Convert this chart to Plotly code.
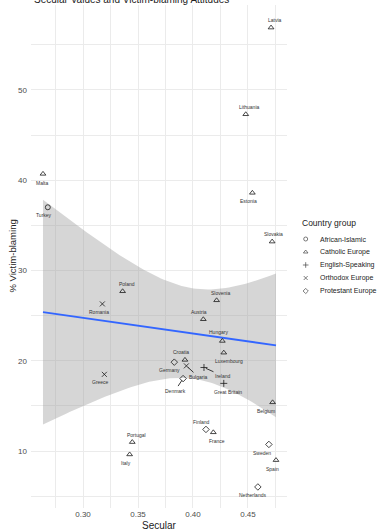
import numpy as np
import plotly.graph_objects as go

# ---- data -------------------------------------------------------------
countries = ["Latvia", "Lithuania", "Estonia", "Slovakia", "Malta", "Turkey",
             "Poland", "Romania", "Greece", "Germany", "Croatia", "Slovenia",
             "Austria", "Hungary", "Luxembourg", "Ireland", "Bulgaria", "Denmark",
             "Great Britain", "Belgium", "Portugal", "Italy", "Finland", "France",
             "Sweden", "Spain", "Netherlands"]
groups = ["Catholic Europe", "Catholic Europe", "Catholic Europe", "Catholic Europe",
          "Catholic Europe", "African-Islamic", "Catholic Europe", "Orthodox Europe",
          "Orthodox Europe", "Protestant Europe", "Catholic Europe", "Catholic Europe",
          "Catholic Europe", "Catholic Europe", "Catholic Europe", "English-Speaking",
          "Orthodox Europe", "Protestant Europe", "English-Speaking", "Catholic Europe",
          "Catholic Europe", "Catholic Europe", "Protestant Europe", "Catholic Europe",
          "Protestant Europe", "Catholic Europe", "Protestant Europe"]
secular = [0.471, 0.448, 0.454, 0.472, 0.2636, 0.268, 0.336, 0.3176, 0.3194,
           0.383, 0.3927, 0.4215, 0.4094, 0.4267, 0.428, 0.410, 0.394, 0.391,
           0.428, 0.4724, 0.3448, 0.3424, 0.4118, 0.4185, 0.469, 0.4755, 0.459]
victim_blaming = [56.9, 47.3, 38.6, 33.2, 40.7, 37.0, 27.7, 26.3, 18.5, 19.85,
                  20.1, 26.7, 24.6, 22.2, 20.9, 19.26, 19.44, 18.03, 17.5, 15.4,
                  11.0, 9.63, 12.4, 12.08, 10.74, 9.0, 6.03]

group_order = ["African-Islamic", "Catholic Europe", "English-Speaking",
               "Orthodox Europe", "Protestant Europe"]
x_ticks = [0.30, 0.35, 0.40, 0.45]
y_ticks = [10, 20, 30, 40, 50]

# ---- styling ----------------------------------------------------------
FONT = "Liberation Sans"
symbols = {"African-Islamic": "circle-open", "Catholic Europe": "triangle-up-open",
           "English-Speaking": "cross-thin-open", "Orthodox Europe": "x-thin-open",
           "Protestant Europe": "diamond-open"}

# label offsets (px) relative to each point; True = draw a leader segment
label_offsets = {
    "Latvia": (4, -7.5, False), "Lithuania": (4, -7.5, False), "Estonia": (-4, 8, False),
    "Slovakia": (1, -7.5, False), "Malta": (-1, 9, False), "Turkey": (-4, 8, False),
    "Poland": (4, -7.5, False), "Romania": (-3, 8.5, False), "Greece": (-4, 8, False),
    "Germany": (-5, 8, False), "Croatia": (-4, -7.5, False), "Slovenia": (4, -7.5, False),
    "Austria": (-4.5, -7.5, False), "Hungary": (-4, -8.5, False),
    "Luxembourg": (5, 8, False), "Ireland": (19, 8.5, True), "Bulgaria": (12, 11, True),
    "Denmark": (-8, 12, True), "Great Britain": (4, 9, False), "Belgium": (-7, 8.5, False),
    "Portugal": (4, -7.5, False), "Italy": (-4, 9, False), "Finland": (-4, -7.5, False),
    "France": (4, 8.5, False), "Sweden": (-7, 8.5, False), "Spain": (-4, 9, False),
    "Netherlands": (-5, 8.5, False),
}

W, H = 379, 529
M_L, M_R, M_T, M_B = 31, 0, 5, 21
PANEL_RIGHT = 287                     # right edge of the data panel (px)
plot_w = W - M_L - M_R
plot_h = H - M_T - M_B
x_dom_end = (PANEL_RIGHT - M_L) / plot_w

x = np.array(secular)
y = np.array(victim_blaming)

# ---- linear fit with 95% confidence band ------------------------------
n = len(x)
slope, intercept = np.polyfit(x, y, 1)
resid = y - (slope * x + intercept)
s = np.sqrt(np.sum(resid ** 2) / (n - 2))
sxx = np.sum((x - x.mean()) ** 2)
T_975 = 2.0595                        # t quantile, 0.975, df = n - 2 = 25
xs = np.linspace(x.min(), x.max(), 80)
fit = slope * xs + intercept
half = T_975 * s * np.sqrt(1 / n + (xs - x.mean()) ** 2 / sxx)

fig = go.Figure()

fig.add_trace(go.Scatter(
    x=np.concatenate([xs, xs[::-1]]), y=np.concatenate([fit + half, (fit - half)[::-1]]),
    fill="toself", fillcolor="rgba(153,153,153,0.4)", line=dict(width=0),
    mode="lines", hoverinfo="skip", showlegend=False))
fig.add_trace(go.Scatter(x=xs, y=fit, mode="lines",
                         line=dict(color="#3366FF", width=2), showlegend=False))

for g in group_order:
    idx = [i for i, gg in enumerate(groups) if gg == g]
    fig.add_trace(go.Scatter(
        x=[secular[i] for i in idx], y=[victim_blaming[i] for i in idx],
        mode="markers", name=g, showlegend=False,
        marker=dict(symbol=symbols[g], size=5, color="#1a1a1a",
                    line=dict(color="#1a1a1a", width=0.8))))

annotations = []
for c, xv, yv in zip(countries, secular, victim_blaming):
    dx, dy, seg = label_offsets[c]
    if seg:
        annotations.append(dict(
            x=xv, y=yv, xref="x", yref="y", text=c, showarrow=True,
            ax=dx, ay=dy, arrowhead=0, arrowwidth=0.9, arrowcolor="#222222",
            standoff=2, font=dict(family=FONT, size=5, color="#333333")))
    else:
        annotations.append(dict(
            x=xv, y=yv, xref="x", yref="y", text=c, showarrow=False,
            xshift=dx, yshift=-dy, font=dict(family=FONT, size=5, color="#333333")))

# ---- legend drawn on a hidden pixel-scaled axis pair ------------------
LEG_X_KEY, LEG_X_TEXT = 305.7, 317.5
LEG_TITLE_Y, LEG_FIRST_Y, LEG_STEP = 223, 239, 13
for k, g in enumerate(group_order):
    fig.add_trace(go.Scatter(
        x=[LEG_X_KEY], y=[LEG_FIRST_Y + k * LEG_STEP], xaxis="x2", yaxis="y2",
        mode="markers", showlegend=False, hoverinfo="skip",
        marker=dict(symbol=symbols[g], size=4, color="#444444",
                    line=dict(color="#444444", width=0.7))))
    annotations.append(dict(
        x=LEG_X_TEXT, y=LEG_FIRST_Y + k * LEG_STEP, xref="x2", yref="y2",
        text=g, showarrow=False, xanchor="left", yanchor="middle",
        font=dict(family=FONT, size=7, color="#222222")))
annotations.append(dict(
    x=LEG_X_KEY - 6, y=LEG_TITLE_Y, xref="x2", yref="y2", text="Country group",
    showarrow=False, xanchor="left", yanchor="middle",
    font=dict(family=FONT, size=8.5, color="#222222")))

# ---- titles -----------------------------------------------------------
annotations.append(dict(
    x=(32 - M_L) / plot_w, y=(plot_h + M_T + 0.5) / plot_h, xref="paper", yref="paper",
    text="Secular Values and Victim-blaming Attitudes", showarrow=False,
    xanchor="left", yanchor="middle", font=dict(family=FONT, size=10, color="#222222")))
annotations.append(dict(
    x=x_dom_end / 2, y=-17.5 / plot_h, xref="paper", yref="paper", text="Secular",
    showarrow=False, xanchor="center", yanchor="middle",
    font=dict(family=FONT, size=10, color="#222222")))
annotations.append(dict(
    x=(12 - M_L) / plot_w, y=0.5, xref="paper", yref="paper", text="% Victim-blaming",
    showarrow=False, textangle=-90, xanchor="center", yanchor="middle",
    font=dict(family=FONT, size=9.5, color="#222222")))

grid = "#ebebeb"
fig.update_layout(
    width=W, height=H, margin=dict(l=M_L, r=M_R, t=M_T, b=M_B, pad=0),
    paper_bgcolor="white", plot_bgcolor="white", showlegend=False,
    font=dict(family=FONT),
    xaxis=dict(domain=[0, x_dom_end], range=[0.2527, 0.4855], tickvals=x_ticks,
               tickformat=".2f", showgrid=True, gridcolor=grid, gridwidth=1,
               zeroline=False, showline=False, ticks="",
               tickfont=dict(family=FONT, size=8, color="#4d4d4d"),
               minor=dict(dtick=0.025, tick0=0.275, showgrid=True,
                          gridcolor=grid, gridwidth=1)),
    yaxis=dict(range=[3.7, 59.4], tickvals=y_ticks, showgrid=True, gridcolor=grid,
               gridwidth=1, zeroline=False, showline=False, ticks="",
               ticklabelstandoff=3,
               tickfont=dict(family=FONT, size=8, color="#4d4d4d"),
               minor=dict(dtick=10, tick0=5, showgrid=True,
                          gridcolor=grid, gridwidth=1)),
    xaxis2=dict(domain=[x_dom_end, 1], range=[PANEL_RIGHT, W], visible=False,
                anchor="y2", fixedrange=True),
    yaxis2=dict(domain=[0, 1], range=[M_T + plot_h, M_T], visible=False,
                anchor="x2", fixedrange=True),
    annotations=annotations,
)

fig.write_html("out.html")
